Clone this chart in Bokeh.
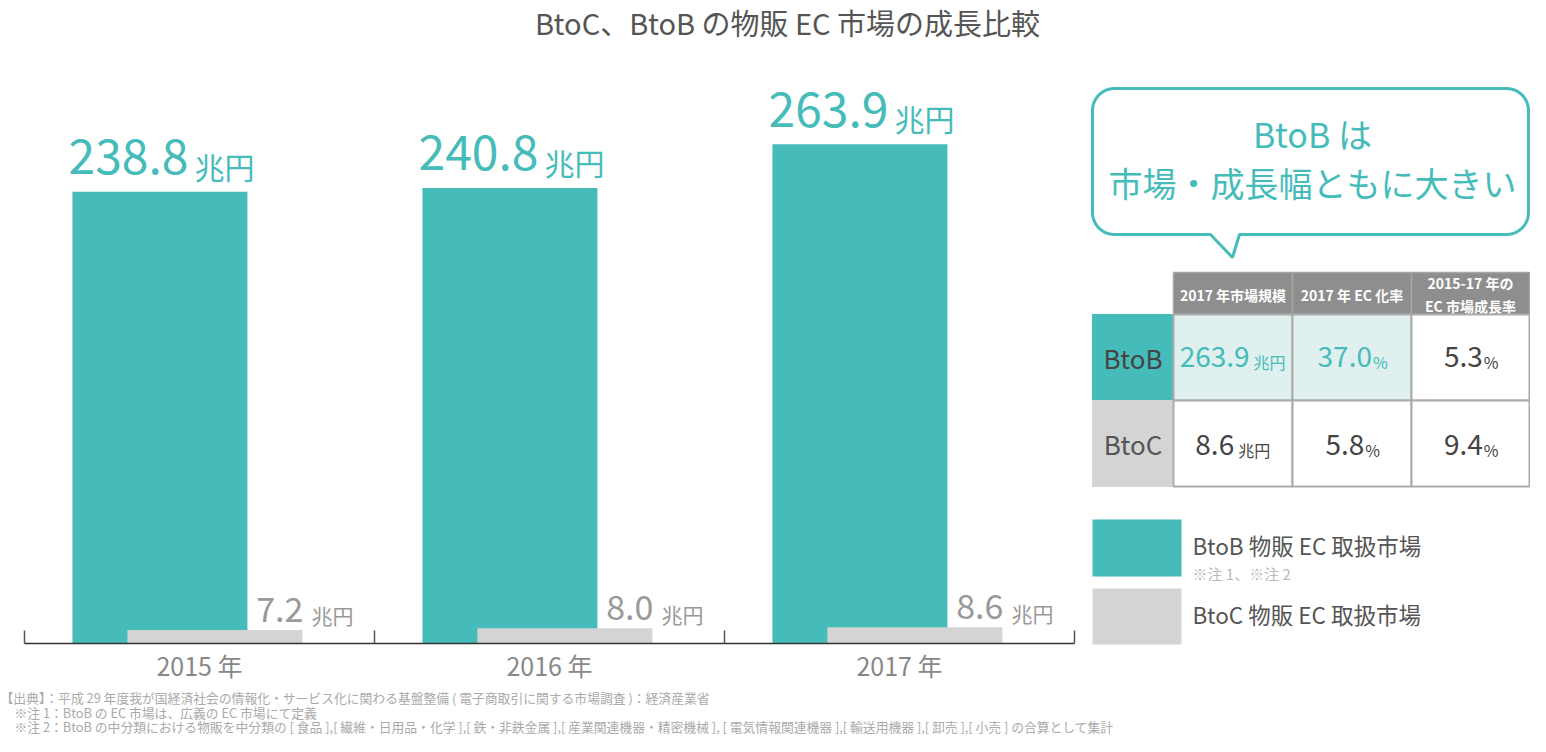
import math
from bokeh.plotting import figure
from bokeh.models import Range1d, LinearAxis, FixedTicker, ColumnDataSource
from bokeh.transform import dodge
from bokeh.core.properties import value
from bokeh.embed import file_html
from bokeh.resources import INLINE

# ---------------- data ----------------
title_text = "BtoC、BtoB の物販 EC 市場の成長比較"
years = ["2015 年", "2016 年", "2017 年"]
btob = [238.8, 240.8, 263.9]
btoc = [7.2, 8.0, 8.6]
unit = "兆円"

table_header = ["2017 年市場規模", "2017 年 EC 化率", "2015-17 年の\nEC 市場成長率"]
table_rows = ["BtoB", "BtoC"]
market_size = [263.9, 8.6]
ec_rate = [37.0, 5.8]
growth_rate = [5.3, 9.4]

bubble_lines = ["BtoB は", "市場・成長幅ともに大きい"]
legend_labels = ["BtoB 物販 EC 取扱市場", "BtoC 物販 EC 取扱市場"]
legend_note = "※注 1、※注 2"
footnotes = [
    "【出典】：平成 29 年度我が国経済社会の情報化・サービス化に関わる基盤整備 ( 電子商取引に関する市場調査 )：経済産業省",
    "※注 1：BtoB の EC 市場は、広義の EC 市場にて定義",
    "※注 2：BtoB の中分類における物販を中分類の [ 食品 ],[ 繊維・日用品・化学 ],[ 鉄・非鉄金属 ],[ 産業関連機器・精密機械 ], [ 電気情報関連機器 ],[ 輸送用機器 ],[ 卸売 ],[ 小売 ] の合算として集計",
]

# ---------------- style ----------------
JP = "Noto Sans CJK JP"
TEAL = "#45BCBA"
LTEAL = "#DFF0EF"
GRAY = "#D4D4D4"
HEAD = "#8E8E8E"
BORDER = "#ABABAB"
DARK = "#444444"

W, H = 1530, 736
X0, CAT_W = 24, 350          # x of first category boundary, px per category
BASE_Y, PX_PER_UNIT = 643, 1.892


def ab(fs):
    """offset that puts the alphabetic baseline where wanted"""
    return -0.4 * fs


p = figure(width=W, height=H, output_backend="svg", toolbar_location=None,
           x_range=Range1d(-X0 / CAT_W, (W - X0) / CAT_W),
           y_range=Range1d(-(H - BASE_Y) / PX_PER_UNIT, BASE_Y / PX_PER_UNIT),
           x_axis_location=None, y_axis_location=None, min_border=0)
p.outline_line_color = None
p.background_fill_color = "white"
p.grid.visible = False
p.extra_x_ranges = {"px": Range1d(0, W)}
p.extra_y_ranges = {"px": Range1d(H, 0)}
PX = dict(x_range_name="px", y_range_name="px")


def tw(s, fs):
    w = 0.0
    for ch in s:
        if ch.isdigit():
            w += 0.55
        elif ch == ".":
            w += 0.27
        elif ch == " ":
            w += 0.22
        elif ch == "%":
            w += 0.8
        elif ord(ch) < 128:
            w += 0.56
        else:
            w += 1.0
    return w * fs

# ---------------- bars ----------------
src = ColumnDataSource(dict(
    x=[i + 0.5 for i in range(len(years))],
    btob=btob, btoc=btoc,
    btob_lbl=[f"{v:.1f}" for v in btob],
    btoc_lbl=[f"{v:.1f}" for v in btoc],
    unit=[unit] * len(years),
))
TEAL_OFF, GRAY_OFF, BW = -0.113, 0.044, 0.5
p.vbar(x=dodge("x", TEAL_OFF, range=p.x_range), top="btob", bottom=0, width=BW,
       fill_color=TEAL, line_color=None, source=src)
p.vbar(x=dodge("x", GRAY_OFF, range=p.x_range), top="btoc", bottom=0, width=BW,
       fill_color=GRAY, line_color=None, source=src)

p.text(x=dodge("x", TEAL_OFF - BW / 2, range=p.x_range), y="btob", text="btob_lbl",
       x_offset=116, y_offset=-16 + ab(48), text_align="right", text_baseline="alphabetic",
       text_font=value(JP), text_font_size="48px", text_color=TEAL, source=src)
p.text(x=dodge("x", TEAL_OFF - BW / 2, range=p.x_range), y="btob", text="unit",
       x_offset=122, y_offset=-14 + ab(30), text_align="left", text_baseline="alphabetic",
       text_font=value(JP), text_font_size="30px", text_color=TEAL, source=src)
p.text(x=dodge("x", GRAY_OFF + BW / 2, range=p.x_range), y="btoc", text="btoc_lbl",
       x_offset=1, y_offset=-7 + ab(34), text_align="right", text_baseline="alphabetic",
       text_font=value(JP), text_font_size="34px", text_color="#999999", source=src)
p.text(x=dodge("x", GRAY_OFF + BW / 2, range=p.x_range), y="btoc", text="unit",
       x_offset=9, y_offset=-6 + ab(21), text_align="left", text_baseline="alphabetic",
       text_font=value(JP), text_font_size="21px", text_color="#999999", source=src)

# ---------------- axes ----------------
n = len(years)
ax = LinearAxis(ticker=FixedTicker(ticks=list(range(n + 1))), bounds=(0, n),
                fixed_location=0, major_tick_in=13, major_tick_out=0,
                minor_tick_line_color=None, axis_line_color="#333333",
                axis_line_width=1.5, major_tick_line_color="#555555",
                major_tick_line_width=1.5,
                major_label_overrides={i: "" for i in range(n + 1)})
p.add_layout(ax, "below")
ax2 = LinearAxis(ticker=FixedTicker(ticks=[i + 0.5 for i in range(n)]),
                 fixed_location=0, axis_line_color=None, major_tick_line_color=None,
                 minor_tick_line_color=None, major_tick_in=0, major_tick_out=0,
                 major_label_standoff=3,
                 major_label_overrides={i + 0.5: y for i, y in enumerate(years)},
                 major_label_text_font=JP, major_label_text_font_size="25px",
                 major_label_text_color="#888888")
p.add_layout(ax2, "below")

# ---------------- title ----------------
p.text(x=[787], y=[21.5], text=[title_text], text_align="center", text_baseline="middle",
       text_font=value(JP), text_font_size="29px", text_color="#555555", **PX)

# ---------------- speech bubble ----------------
def bubble(l, r, t, b, rad, tl, tr, tip):
    xs, ys = [], []

    def arc(cx, cy, a0, a1):
        for k in range(13):
            a = a0 + (a1 - a0) * k / 12
            xs.append(cx + rad * math.cos(a))
            ys.append(cy + rad * math.sin(a))
    arc(l + rad, t + rad, math.pi, 1.5 * math.pi)
    arc(r - rad, t + rad, 1.5 * math.pi, 2 * math.pi)
    arc(r - rad, b - rad, 0, 0.5 * math.pi)
    xs += [tr, tip[0], tl]
    ys += [b, tip[1], b]
    arc(l + rad, b - rad, 0.5 * math.pi, math.pi)
    return xs, ys

bx, by = bubble(1092, 1528, 88, 234, 22, 1210, 1239, (1232, 257))
p.patch(bx, by, fill_color="white", line_color=TEAL, line_width=3, **PX)
p.text(x=[1312, 1312], y=[133, 182], text=bubble_lines, text_align="center",
       text_baseline="middle", text_font=value(JP), text_font_size="34px",
       text_color=TEAL, **PX)

# ---------------- table ----------------
tx = [1092, 1173, 1292, 1411, 1529]
ty = [272, 314, 400, 486]
nc = len(table_header)
# header
p.quad(left=tx[1:-1], right=tx[2:], top=[ty[0]] * nc, bottom=[ty[1]] * nc,
       fill_color=HEAD, line_color="#A6A6A6", line_width=1.5, **PX)
p.text(x=[(tx[c + 1] + tx[c + 2]) / 2 for c in range(nc)], y=[(ty[0] + ty[1]) / 2 + 1] * nc,
       text=table_header, text_align="center", text_baseline="middle",
       text_line_height=1.15, text_font=value(JP), text_font_size="14px",
       text_font_style="bold", text_color="white", **PX)
# row label cells
p.quad(left=[tx[0]] * 2, right=[tx[1]] * 2, top=ty[1:3], bottom=ty[2:4],
       fill_color=[TEAL, GRAY], line_color=[TEAL, GRAY], **PX)
RFS = 26
p.text(x=[(tx[0] + tx[1]) / 2] * 2, y=[(ty[r + 1] + ty[r + 2]) / 2 + 10 for r in range(2)],
       text=table_rows, y_offset=ab(RFS), text_align="center", text_baseline="alphabetic",
       text_font=value(JP), text_font_size=f"{RFS}px", text_color=[DARK, "#555555"], **PX)
# value cells
cl, cr, ct, cb, cf = [], [], [], [], []
for r in range(2):
    for c in range(nc):
        cl.append(tx[c + 1]); cr.append(tx[c + 2])
        ct.append(ty[r + 1]); cb.append(ty[r + 2])
        cf.append(LTEAL if (r == 0 and c < 2) else "white")
p.quad(left=cl, right=cr, top=ct, bottom=cb, fill_color=cf, line_color=BORDER,
       line_width=2, **PX)

cols = [market_size, ec_rate, growth_rate]
units = [unit, "%", "%"]
gaps = [4, 1, 1]
NFS, UFS = 28, 16
nx, ux, yy, nt, ut, colr = [], [], [], [], [], []
for r in range(2):
    for c in range(nc):
        num = f"{cols[c][r]:.1f}"
        u = units[c]
        wn, wu = tw(num, NFS), tw(u, UFS)
        start = (tx[c + 1] + tx[c + 2]) / 2 - (wn + gaps[c] + wu) / 2
        nx.append(start + wn); ux.append(start + wn + gaps[c])
        yy.append((ty[r + 1] + ty[r + 2]) / 2 + 10 + r * 2)
        nt.append(num); ut.append(u)
        colr.append(TEAL if (r == 0 and c < 2) else DARK)
p.text(x=nx, y=yy, text=nt, y_offset=ab(NFS), text_align="right", text_baseline="alphabetic",
       text_font=value(JP), text_font_size=f"{NFS}px", text_color=colr, **PX)
p.text(x=ux, y=yy, text=ut, y_offset=ab(UFS) + 1, text_align="left", text_baseline="alphabetic",
       text_font=value(JP), text_font_size=f"{UFS}px", text_color=colr, **PX)

# ---------------- legend ----------------
p.quad(left=[1092, 1092], right=[1181, 1181], top=[519, 588], bottom=[576, 644],
       fill_color=[TEAL, GRAY], line_color=None, **PX)
p.text(x=[1192, 1192], y=[544, 613], text=legend_labels, text_align="left",
       text_baseline="middle", text_font=value(JP), text_font_size="22.5px",
       text_color="#555555", **PX)
p.text(x=[1192], y=[573], text=[legend_note], text_align="left", text_baseline="middle",
       text_font=value(JP), text_font_size="15px", text_color="#BBBBBB", **PX)

# ---------------- footnotes ----------------
p.text(x=[0, 14, 14], y=[697, 711.5, 726], text=footnotes, text_align="left",
       text_baseline="middle", text_font=value(JP), text_font_size="12.8px",
       text_color="#AAAAAA", **PX)

open("out.html", "w").write(file_html(p, INLINE))
